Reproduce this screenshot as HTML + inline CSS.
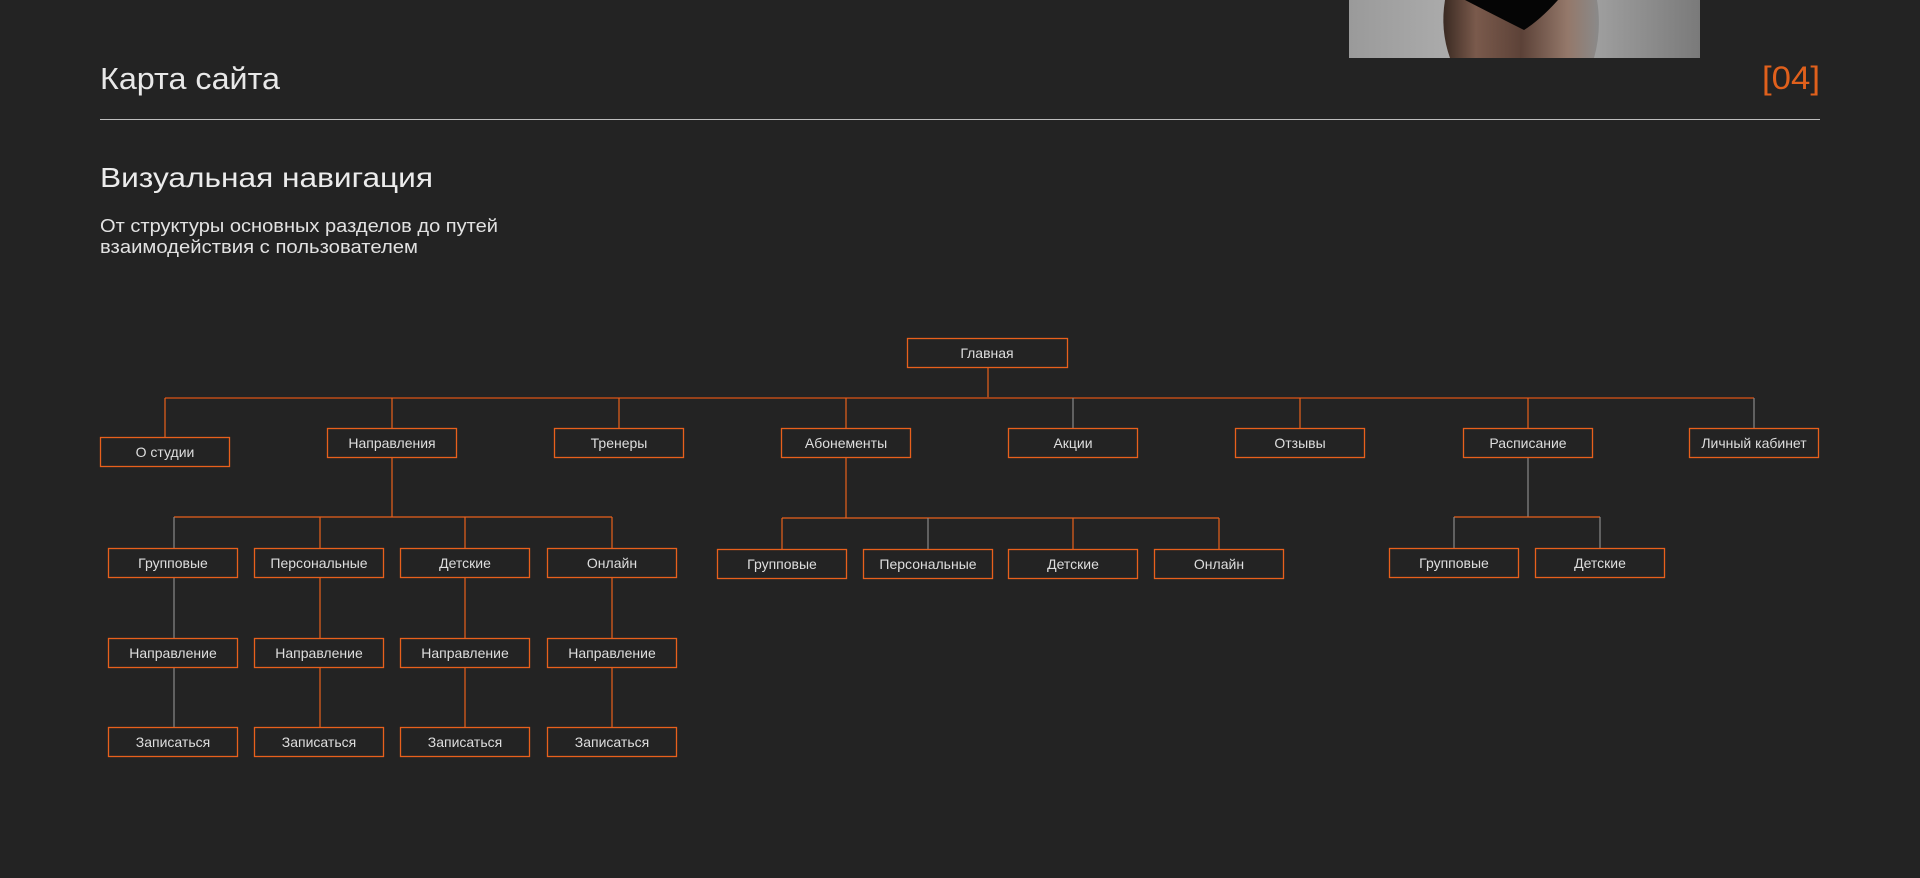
<!DOCTYPE html>
<html><head><meta charset="utf-8"><style>
html,body{margin:0;padding:0;background:#232323;}
svg{display:block}
text{font-family:"Liberation Sans",sans-serif;}
</style></head><body>
<svg width="1920" height="878" viewBox="0 0 1920 878" xmlns="http://www.w3.org/2000/svg">
<defs>
<linearGradient id="bg" x1="0" x2="1" y1="0" y2="0">
<stop offset="0" stop-color="#9a9a9a"/><stop offset="0.5" stop-color="#b8b8b8"/><stop offset="1" stop-color="#7a7a7a"/>
</linearGradient>
<linearGradient id="lg" x1="0" x2="1"><stop offset="0" stop-color="#3a2a22"/><stop offset="0.4" stop-color="#7a5a4c"/><stop offset="1" stop-color="#5a4036"/></linearGradient>
<linearGradient id="rg" x1="0" x2="1"><stop offset="0" stop-color="#5a4036"/><stop offset="0.6" stop-color="#94786a"/><stop offset="1" stop-color="#8a8a8a"/></linearGradient>
</defs>
<rect width="1920" height="878" fill="#232323"/>
<rect x="1349" y="0" width="351" height="58" fill="url(#bg)"/>
<path d="M1445 0 L1525 0 L1522 58 L1450 58 Q1440 30 1445 0Z" fill="url(#lg)"/>
<path d="M1522 0 L1597 0 Q1602 30 1594 58 L1520 58Z" fill="url(#rg)"/>
<path d="M1465 0 L1558 0 Q1540 20 1524 30 Q1500 18 1465 0Z" fill="#050505"/>
<text x="100" y="89" font-size="31" fill="#e8e8e8" textLength="180" lengthAdjust="spacingAndGlyphs">Карта сайта</text>
<text x="1820" y="89" font-size="32" fill="#e0601c" text-anchor="end" textLength="58" lengthAdjust="spacingAndGlyphs">[04]</text>
<rect x="100" y="119" width="1720" height="1" fill="#bdbdbd"/>
<text x="100" y="187" font-size="28" fill="#ececec" textLength="333" lengthAdjust="spacingAndGlyphs">Визуальная навигация</text>
<text x="100" y="232" font-size="18" fill="#e2e2e2" textLength="398" lengthAdjust="spacingAndGlyphs">От структуры основных разделов до путей</text>
<text x="100" y="253" font-size="18" fill="#e2e2e2" textLength="318" lengthAdjust="spacingAndGlyphs">взаимодействия с пользователем</text>
<g stroke="#e8601c" stroke-width="1.2" fill="none">
<line x1="988" y1="367" x2="988" y2="398"/>
<line x1="165" y1="398" x2="1754" y2="398" stroke="#a8461a" stroke-width="1.8"/>
<line x1="165" y1="398" x2="165" y2="438"/>
<line x1="392" y1="398" x2="392" y2="428"/>
<line x1="619" y1="398" x2="619" y2="428"/>
<line x1="846" y1="398" x2="846" y2="428"/>
<line x1="1073" y1="398" x2="1073" y2="428" stroke="#888"/>
<line x1="1300" y1="398" x2="1300" y2="428"/>
<line x1="1528" y1="398" x2="1528" y2="428"/>
<line x1="1754" y1="398" x2="1754" y2="428" stroke="#888"/>
<line x1="392" y1="457" x2="392" y2="517"/>
<line x1="174" y1="517" x2="612" y2="517"/>
<line x1="174" y1="517" x2="174" y2="548" stroke="#888"/>
<line x1="320" y1="517" x2="320" y2="548"/>
<line x1="465" y1="517" x2="465" y2="548"/>
<line x1="612" y1="517" x2="612" y2="548"/>
<line x1="174" y1="577" x2="174" y2="728" stroke="#888"/>
<line x1="320" y1="577" x2="320" y2="728"/>
<line x1="465" y1="577" x2="465" y2="728"/>
<line x1="612" y1="577" x2="612" y2="728"/>
<line x1="846" y1="457" x2="846" y2="518"/>
<line x1="782" y1="518" x2="1219" y2="518"/>
<line x1="782" y1="518" x2="782" y2="549"/>
<line x1="928" y1="518" x2="928" y2="549" stroke="#888"/>
<line x1="1073" y1="518" x2="1073" y2="549"/>
<line x1="1219" y1="518" x2="1219" y2="549"/>
<line x1="1528" y1="457" x2="1528" y2="517" stroke="#888"/>
<line x1="1454" y1="517" x2="1600" y2="517"/>
<line x1="1454" y1="517" x2="1454" y2="548" stroke="#888"/>
<line x1="1600" y1="517" x2="1600" y2="548" stroke="#888"/>
</g>
<g stroke="#e8601c" stroke-width="1.3" fill="#232323">
<rect x="907.5" y="338.5" width="160" height="29"/>
<rect x="100.5" y="437.5" width="129" height="29"/>
<rect x="327.5" y="428.5" width="129" height="29"/>
<rect x="554.5" y="428.5" width="129" height="29"/>
<rect x="781.5" y="428.5" width="129" height="29"/>
<rect x="1008.5" y="428.5" width="129" height="29"/>
<rect x="1235.5" y="428.5" width="129" height="29"/>
<rect x="1463.5" y="428.5" width="129" height="29"/>
<rect x="1689.5" y="428.5" width="129" height="29"/>
<rect x="108.5" y="548.5" width="129" height="29"/>
<rect x="254.5" y="548.5" width="129" height="29"/>
<rect x="400.5" y="548.5" width="129" height="29"/>
<rect x="547.5" y="548.5" width="129" height="29"/>
<rect x="108.5" y="638.5" width="129" height="29"/>
<rect x="254.5" y="638.5" width="129" height="29"/>
<rect x="400.5" y="638.5" width="129" height="29"/>
<rect x="547.5" y="638.5" width="129" height="29"/>
<rect x="108.5" y="727.5" width="129" height="29"/>
<rect x="254.5" y="727.5" width="129" height="29"/>
<rect x="400.5" y="727.5" width="129" height="29"/>
<rect x="547.5" y="727.5" width="129" height="29"/>
<rect x="717.5" y="549.5" width="129" height="29"/>
<rect x="863.5" y="549.5" width="129" height="29"/>
<rect x="1008.5" y="549.5" width="129" height="29"/>
<rect x="1154.5" y="549.5" width="129" height="29"/>
<rect x="1389.5" y="548.5" width="129" height="29"/>
<rect x="1535.5" y="548.5" width="129" height="29"/>
</g>
<g fill="#dedede" font-size="14" text-anchor="middle">
<text x="987" y="358">Главная</text>
<text x="165" y="457">О студии</text>
<text x="392" y="448">Направления</text>
<text x="619" y="448">Тренеры</text>
<text x="846" y="448">Абонементы</text>
<text x="1073" y="448">Акции</text>
<text x="1300" y="448">Отзывы</text>
<text x="1528" y="448">Расписание</text>
<text x="1754" y="448">Личный кабинет</text>
<text x="173" y="568">Групповые</text>
<text x="319" y="568">Персональные</text>
<text x="465" y="568">Детские</text>
<text x="612" y="568">Онлайн</text>
<text x="173" y="658">Направление</text>
<text x="319" y="658">Направление</text>
<text x="465" y="658">Направление</text>
<text x="612" y="658">Направление</text>
<text x="173" y="747">Записаться</text>
<text x="319" y="747">Записаться</text>
<text x="465" y="747">Записаться</text>
<text x="612" y="747">Записаться</text>
<text x="782" y="569">Групповые</text>
<text x="928" y="569">Персональные</text>
<text x="1073" y="569">Детские</text>
<text x="1219" y="569">Онлайн</text>
<text x="1454" y="568">Групповые</text>
<text x="1600" y="568">Детские</text>
</g>
</svg>
</body></html>
